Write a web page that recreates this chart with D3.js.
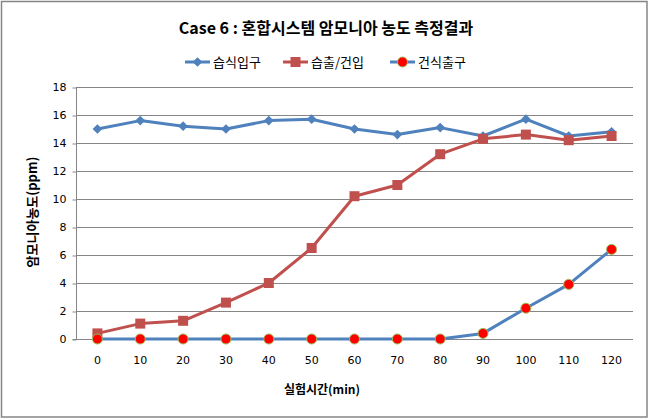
<!DOCTYPE html>
<html><head><meta charset="utf-8">
<script src="https://cdn.jsdelivr.net/npm/d3@7"></script>
<style>body{margin:0;background:#fff}svg{display:block}</style>
</head><body>
<svg id="c" width="649" height="420"></svg>
<script>
const categories = ["0","10","20","30","40","50","60","70","80","90","100","110","120"];
const wetInlet = [15.0,15.6,15.2,15.0,15.6,15.7,15.0,14.6,15.1,14.5,15.7,14.5,14.8];
const wetOutDryIn = [0.4,1.1,1.3,2.6,4.0,6.5,10.2,11.0,13.2,14.3,14.6,14.2,14.5];
const dryOutlet = [0,0,0,0,0,0,0,0,0,0.4,2.2,3.9,6.4];
const yTicks = [0,2,4,6,8,10,12,14,16,18];
const seriesNames = ["습식입구","습출/건입","건식출구"];
const titleText = "Case 6 : 혼합시스템 암모니아 농도 측정결과";
const xTitle = "실험시간(min)";
const yTitle = "암모니아농도(ppm)";

const svg = d3.select("#c");
const font = "'Noto Sans CJK KR','Noto Sans',sans-serif";
svg.append("rect").attr("x",1.5).attr("y",1.5).attr("width",645.5).attr("height",415.5)
  .attr("fill","#fff").attr("stroke","#868686").attr("stroke-width",1.5);

const L=76, R=633, T=87, B=339;
const x = d3.scaleBand().domain(categories).range([L,R]);
const y = d3.scaleLinear().domain([0,18]).range([B,T]);
const cx = c => x(c)+x.bandwidth()/2;

// gridlines
svg.append("g").selectAll("line").data(yTicks.filter(d=>d>0)).join("line")
  .attr("x1",L).attr("x2",R).attr("y1",d=>y(d)+0.5).attr("y2",d=>y(d)+0.5)
  .attr("stroke","#868686").attr("stroke-width",1);

// y axis
const ya = svg.append("g").attr("transform",`translate(${L+0.5},0)`)
  .call(d3.axisLeft(y).tickValues(yTicks).tickSize(4).tickPadding(6).tickFormat(d3.format("d")));
ya.select(".domain").attr("stroke","#868686").attr("d",`M-4,${B+0.5}H0V${T}`);
ya.selectAll(".tick line").attr("stroke","#868686").attr("transform","translate(0,0.5)");
ya.selectAll("text").attr("font-family","'DejaVu Sans',sans-serif").attr("font-size",11).attr("fill","#000");

// x axis
const xa = svg.append("g").attr("transform",`translate(0,${B+0.5})`)
  .call(d3.axisBottom(x).tickSize(0).tickPadding(17));
xa.select(".domain").attr("stroke","#868686").attr("d",`M${L},0H${R}`);
xa.selectAll("text").attr("font-family","'DejaVu Sans',sans-serif").attr("font-size",11).attr("fill","#000");

const line = d3.line().x((d,i)=>cx(categories[i])).y(d=>y(d));
const blue="#4F81BD", red="#C0504D";

function drawLine(data,color){
  svg.append("path").datum(data).attr("d",line).attr("fill","none")
    .attr("stroke",color).attr("stroke-width",3).attr("stroke-linejoin","round");
}
drawLine(wetInlet,blue);
svg.append("g").selectAll("path").data(wetInlet).join("path")
  .attr("d",d3.symbol(d3.symbolDiamond2,60)).attr("fill",blue)
  .attr("transform",(d,i)=>`translate(${cx(categories[i])},${y(d)})`);
drawLine(wetOutDryIn,red);
svg.append("g").selectAll("rect").data(wetOutDryIn).join("rect")
  .attr("x",(d,i)=>cx(categories[i])-5).attr("y",d=>y(d)-5).attr("width",10).attr("height",10)
  .attr("fill",red);
drawLine(dryOutlet,blue);
svg.append("g").selectAll("circle").data(dryOutlet).join("circle")
  .attr("cx",(d,i)=>cx(categories[i])).attr("cy",d=>y(d)).attr("r",5)
  .attr("fill","#FF0000").attr("stroke","#9BBB59").attr("stroke-width",1);

// title
svg.append("text").attr("x",326).attr("y",34).attr("text-anchor","middle")
  .attr("font-family",font).attr("font-weight","bold").attr("font-size",16).text(titleText);

// legend
const lg = [{x:185,c:blue,m:"d"},{x:283,c:red,m:"s"},{x:390,c:blue,m:"c"}];
lg.forEach((o,i)=>{
  const g = svg.append("g");
  g.append("line").attr("x1",o.x).attr("x2",o.x+25).attr("y1",62).attr("y2",62)
    .attr("stroke",o.c).attr("stroke-width",3);
  const mx=o.x+12.5;
  if(o.m==="d") g.append("path").attr("d",d3.symbol(d3.symbolDiamond2,60)).attr("fill",blue).attr("transform",`translate(${mx},62)`);
  if(o.m==="s") g.append("rect").attr("x",mx-5).attr("y",57).attr("width",10).attr("height",10).attr("fill",red);
  if(o.m==="c") g.append("circle").attr("cx",mx).attr("cy",62).attr("r",5).attr("fill","#FF0000").attr("stroke","#9BBB59");
  g.append("text").attr("x",o.x+28).attr("y",67).attr("font-family",font).attr("font-size",13).text(seriesNames[i]);
});

// axis titles
svg.append("text").attr("x",322).attr("y",394).attr("text-anchor","middle")
  .attr("font-family",font).attr("font-weight","bold").attr("font-size",12).text(xTitle);
svg.append("text").attr("transform","translate(37,212) rotate(-90)").attr("text-anchor","middle")
  .attr("font-family",font).attr("font-weight","bold").attr("font-size",13).text(yTitle);
</script>
</body></html>
